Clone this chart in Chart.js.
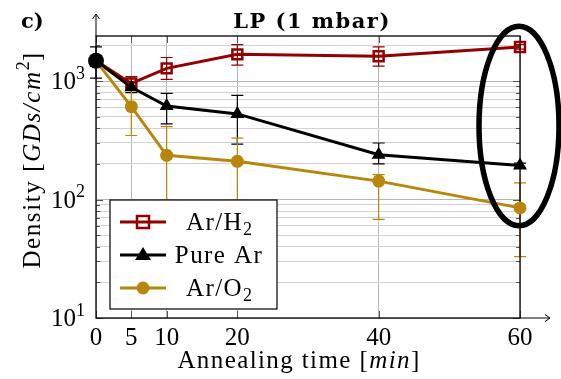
<!DOCTYPE html>
<html>
<head>
<meta charset="utf-8">
<title>LP (1 mbar)</title>
<script src="https://cdn.jsdelivr.net/npm/chart.js"></script>
<style>
  html, body { margin: 0; padding: 0; background: #fff; }
  canvas { display: block; }
</style>
</head>
<body>
<canvas id="densityChart" width="561" height="379"></canvas>
<script>
// ---- data: annealing time [min] vs. GD density [GDs/cm^2] ----
const times = [0, 5, 10, 20, 40, 60];

const arH2     = [1480, 955, 1280, 1680, 1620, 1940];
const arH2Lo   = [null, 840, 1034, 1360, 1338, 1860];
const arH2Hi   = [null, 1088, 1580, 2030, 1942, 2030];

const pureAr   = [1480, 885, 616, 528, 239, 194];
const pureArLo = [1060, 800, 435, 294, 200, 185];
const pureArHi = [1940, 990, 788, 758, 300, 203];

const arO2     = [1480, 608, 236, 210, 143, 85];
const arO2Lo   = [null, 347, 60, 60, 68, 33];
const arO2Hi   = [null, 870, 413, 330, 162, 138];

const xTicks = [0, 5, 10, 20, 40, 60];
const yDecades = [10, 100, 1000];
const yExponents = ['1', '2', '3'];

const COLORS = { h2: '#930000', ar: '#000000', o2: '#B8860B' };
const SERIF = "'Liberation Serif', 'DejaVu Serif', serif";
const SERIF_BOLD = "'DejaVu Serif', 'Liberation Serif', serif";
const TEXT_SIZE = 25;
const TEXT_SPACING = 1.4;

// ellipse highlighting the 60 min column (value range on the y axis)
const ringTop = 2900;
const ringBottom = 60;

const errorSets = [
  { lo: arH2Lo, hi: arH2Hi, color: COLORS.h2 },
  { lo: pureArLo, hi: pureArHi, color: COLORS.ar },
  { lo: arO2Lo, hi: arO2Hi, color: COLORS.o2 }
];

function pts(values) {
  return times.map((t, i) => ({ x: t, y: values[i] }));
}

// draws a run of text pieces; each piece may be italic or shifted (sub/superscript)
function drawRich(ctx, pieces, x, y, size, align, spacing) {
  const setFont = p => {
    ctx.font = (p.italic ? 'italic ' : '') + Math.round(size * (p.scale || 1)) + 'px ' + SERIF;
    ctx.letterSpacing = (p.scale ? 0 : (spacing || 0)) + 'px';
  };
  const total = pieces.reduce((s, p) => { setFont(p); return s + ctx.measureText(p.text).width; }, 0);
  let cx = align === 'center' ? x - total / 2 : (align === 'right' ? x - total : x);
  ctx.textBaseline = 'alphabetic';
  ctx.textAlign = 'left';
  pieces.forEach(p => {
    setFont(p);
    ctx.fillText(p.text, cx, y + (p.dy || 0) * size);
    cx += ctx.measureText(p.text).width;
  });
  ctx.letterSpacing = '0px';
}

const errorBars = {
  id: 'errorBars',
  beforeDatasetsDraw(chart) {
    const { ctx, scales: { x, y } } = chart;
    ctx.save();
    ctx.lineWidth = 1.2;
    errorSets.forEach(set => {
      ctx.strokeStyle = set.color;
      times.forEach((t, i) => {
        if (set.lo[i] == null) return;
        const px = x.getPixelForValue(t);
        const y0 = y.getPixelForValue(set.lo[i]);
        const y1 = y.getPixelForValue(set.hi[i]);
        ctx.beginPath();
        ctx.moveTo(px, y0); ctx.lineTo(px, y1);
        ctx.moveTo(px - 6, y0); ctx.lineTo(px + 6, y0);
        ctx.moveTo(px - 6, y1); ctx.lineTo(px + 6, y1);
        ctx.stroke();
      });
    });
    ctx.restore();
  }
};

const frame = {
  id: 'frame',
  beforeDatasetsDraw(chart) {
    const { ctx, chartArea: a, scales: { x, y } } = chart;
    ctx.save();
    // inner tick marks on all four sides
    ctx.strokeStyle = '#555';
    ctx.lineWidth = 1;
    y.ticks.forEach(t => {
      const py = Math.round(y.getPixelForValue(t.value)) + 0.5;
      const len = yDecades.includes(t.value) ? 7 : 4;
      ctx.beginPath();
      ctx.moveTo(a.left, py); ctx.lineTo(a.left + len, py);
      ctx.moveTo(a.right, py); ctx.lineTo(a.right - len, py);
      ctx.stroke();
    });
    x.ticks.forEach(t => {
      const px = Math.round(x.getPixelForValue(t.value)) + 0.5;
      ctx.beginPath();
      ctx.moveTo(px, a.bottom); ctx.lineTo(px, a.bottom - 7);
      ctx.moveTo(px, a.top); ctx.lineTo(px, a.top + 7);
      ctx.stroke();
    });
    // box
    ctx.strokeStyle = '#000';
    ctx.lineWidth = 1.3;
    ctx.strokeRect(a.left, a.top, a.right - a.left, a.bottom - a.top);
    // axis arrows
    ctx.lineWidth = 1;
    ctx.beginPath();
    ctx.moveTo(a.left, a.top); ctx.lineTo(a.left, a.top - 22);
    ctx.moveTo(a.left - 3.5, a.top - 17); ctx.lineTo(a.left, a.top - 22); ctx.lineTo(a.left + 3.5, a.top - 17);
    ctx.moveTo(a.right, a.bottom); ctx.lineTo(a.right + 30, a.bottom);
    ctx.moveTo(a.right + 25, a.bottom - 3.5); ctx.lineTo(a.right + 30, a.bottom); ctx.lineTo(a.right + 25, a.bottom + 3.5);
    ctx.stroke();
    ctx.restore();
  }
};

const overlay = {
  id: 'overlay',
  afterDraw(chart) {
    const { ctx, chartArea: a, scales: { x, y } } = chart;
    ctx.save();
    ctx.fillStyle = '#000';

    // panel letter and title
    ctx.font = 'bold 21px ' + SERIF_BOLD;
    ctx.textBaseline = 'alphabetic';
    ctx.textAlign = 'left';
    ctx.fillText('c)', 21, 28);
    ctx.letterSpacing = '1.5px';
    ctx.textAlign = 'center';
    ctx.fillText('LP (1 mbar)', 312, 28);
    ctx.letterSpacing = '0px';

    // decade labels 10^n on the y axis
    yDecades.forEach((d, i) => {
      drawRich(ctx, [
        { text: '10' },
        { text: yExponents[i], scale: 0.72, dy: -0.42 }
      ], a.left - 11, y.getPixelForValue(d) + 8, TEXT_SIZE, 'right', 0);
    });

    // axis titles
    drawRich(ctx, [
      { text: 'Annealing time [' },
      { text: 'min', italic: true },
      { text: ']' }
    ], 299, 368, TEXT_SIZE, 'center', TEXT_SPACING);

    ctx.save();
    ctx.translate(40, 160);
    ctx.rotate(-Math.PI / 2);
    drawRich(ctx, [
      { text: 'Density [' },
      { text: 'GDs/cm', italic: true },
      { text: '2', scale: 0.72, dy: -0.45 },
      { text: ']' }
    ], 0, 0, TEXT_SIZE, 'center', TEXT_SPACING + 0.2);
    ctx.restore();

    // legend
    const lx = 110, ly = 200, lw = 167, lh = 109;
    ctx.fillStyle = '#fff';
    ctx.fillRect(lx, ly, lw, lh);
    ctx.strokeStyle = '#000';
    ctx.lineWidth = 1.2;
    ctx.strokeRect(lx, ly, lw, lh);
    const rows = [
      { pieces: [{ text: 'Ar/H' }, { text: '2', scale: 0.72, dy: 0.18 }], color: COLORS.h2, marker: 'rect' },
      { pieces: [{ text: 'Pure Ar' }], color: COLORS.ar, marker: 'triangle' },
      { pieces: [{ text: 'Ar/O' }, { text: '2', scale: 0.72, dy: 0.18 }], color: COLORS.o2, marker: 'circle' }
    ];
    rows.forEach((r, i) => {
      const cy = ly + 22 + i * 33;
      ctx.strokeStyle = r.color;
      ctx.fillStyle = r.color;
      ctx.lineWidth = 3;
      ctx.beginPath();
      ctx.moveTo(lx + 10, cy); ctx.lineTo(lx + 56, cy);
      ctx.stroke();
      const mx = lx + 33;
      if (r.marker === 'rect') {
        ctx.lineWidth = 2.5;
        ctx.strokeRect(mx - 6, cy - 6, 12, 12);
      } else if (r.marker === 'triangle') {
        ctx.beginPath();
        ctx.moveTo(mx, cy - 8); ctx.lineTo(mx + 8, cy + 5); ctx.lineTo(mx - 8, cy + 5);
        ctx.closePath(); ctx.fill();
      } else {
        ctx.beginPath(); ctx.arc(mx, cy, 6.5, 0, Math.PI * 2); ctx.fill();
      }
      ctx.fillStyle = '#000';
      drawRich(ctx, r.pieces, lx + 109, cy + 8, TEXT_SIZE, 'center', TEXT_SPACING);
    });

    // highlight ring around the 60 min values
    const cx = x.getPixelForValue(60) - 1;
    const top = y.getPixelForValue(ringTop);
    const bottom = y.getPixelForValue(ringBottom);
    ctx.strokeStyle = '#000';
    ctx.lineWidth = 5.5;
    ctx.beginPath();
    ctx.ellipse(cx, (top + bottom) / 2, 40, (bottom - top) / 2, 0, 0, Math.PI * 2);
    ctx.stroke();
    ctx.restore();
  }
};

const lineStyle = {
  borderWidth: 3,
  tension: 0,
  clip: false,
  showLine: true,
  fill: false
};

new Chart(document.getElementById('densityChart'), {
  type: 'scatter',
  data: {
    datasets: [
      Object.assign({
        label: 'Ar/H2',
        data: pts(arH2),
        borderColor: COLORS.h2,
        pointStyle: 'rect',
        pointRadius: 7,
        pointBorderWidth: 2.5,
        pointBorderColor: COLORS.h2,
        pointBackgroundColor: 'rgba(0,0,0,0)',
        order: 3
      }, lineStyle),
      Object.assign({
        label: 'Pure Ar',
        data: pts(pureAr),
        borderColor: COLORS.ar,
        pointStyle: 'triangle',
        pointRadius: 8,
        pointBorderWidth: 0,
        pointBackgroundColor: COLORS.ar,
        order: 2
      }, lineStyle),
      Object.assign({
        label: 'Ar/O2',
        data: pts(arO2),
        borderColor: COLORS.o2,
        pointStyle: 'circle',
        pointRadius: times.map((t, i) => i === 0 ? 8 : 6.5),
        pointBorderWidth: 0,
        pointBackgroundColor: times.map((t, i) => i === 0 ? '#000' : COLORS.o2),
        order: 1
      }, lineStyle)
    ]
  },
  options: {
    responsive: false,
    animation: false,
    layout: { padding: { top: 36, right: 41, bottom: 0, left: 0 } },
    plugins: {
      legend: { display: false },
      tooltip: { enabled: false },
      title: { display: false }
    },
    scales: {
      x: {
        type: 'linear',
        min: 0,
        max: 60,
        afterBuildTicks: s => { s.ticks = xTicks.map(v => ({ value: v })); },
        afterFit: s => { s.height = 61; },
        ticks: {
          autoSkip: false,
          maxRotation: 0,
          padding: 5,
          color: '#000',
          font: { family: SERIF, size: TEXT_SIZE },
          callback: v => String(v)
        },
        grid: { color: '#b8b8b8', lineWidth: 1, drawTicks: false },
        border: { display: false }
      },
      y: {
        type: 'logarithmic',
        min: 10,
        max: 2400,
        afterBuildTicks: s => {
          const vals = [];
          yDecades.forEach(d => {
            for (let k = 1; k <= 9; k++) {
              if (d * k <= 2400) vals.push(d * k);
            }
          });
          s.ticks = vals.map(v => ({ value: v }));
        },
        afterFit: s => { s.width = 96; },
        ticks: {
          autoSkip: false,
          callback: () => ''
        },
        grid: {
          color: c => yDecades.includes(c.tick && c.tick.value) ? '#b5b5b5' : '#d2d2d2',
          lineWidth: 1,
          drawTicks: false
        },
        border: { display: false }
      }
    }
  },
  plugins: [errorBars, frame, overlay]
});
</script>
</body>
</html>
